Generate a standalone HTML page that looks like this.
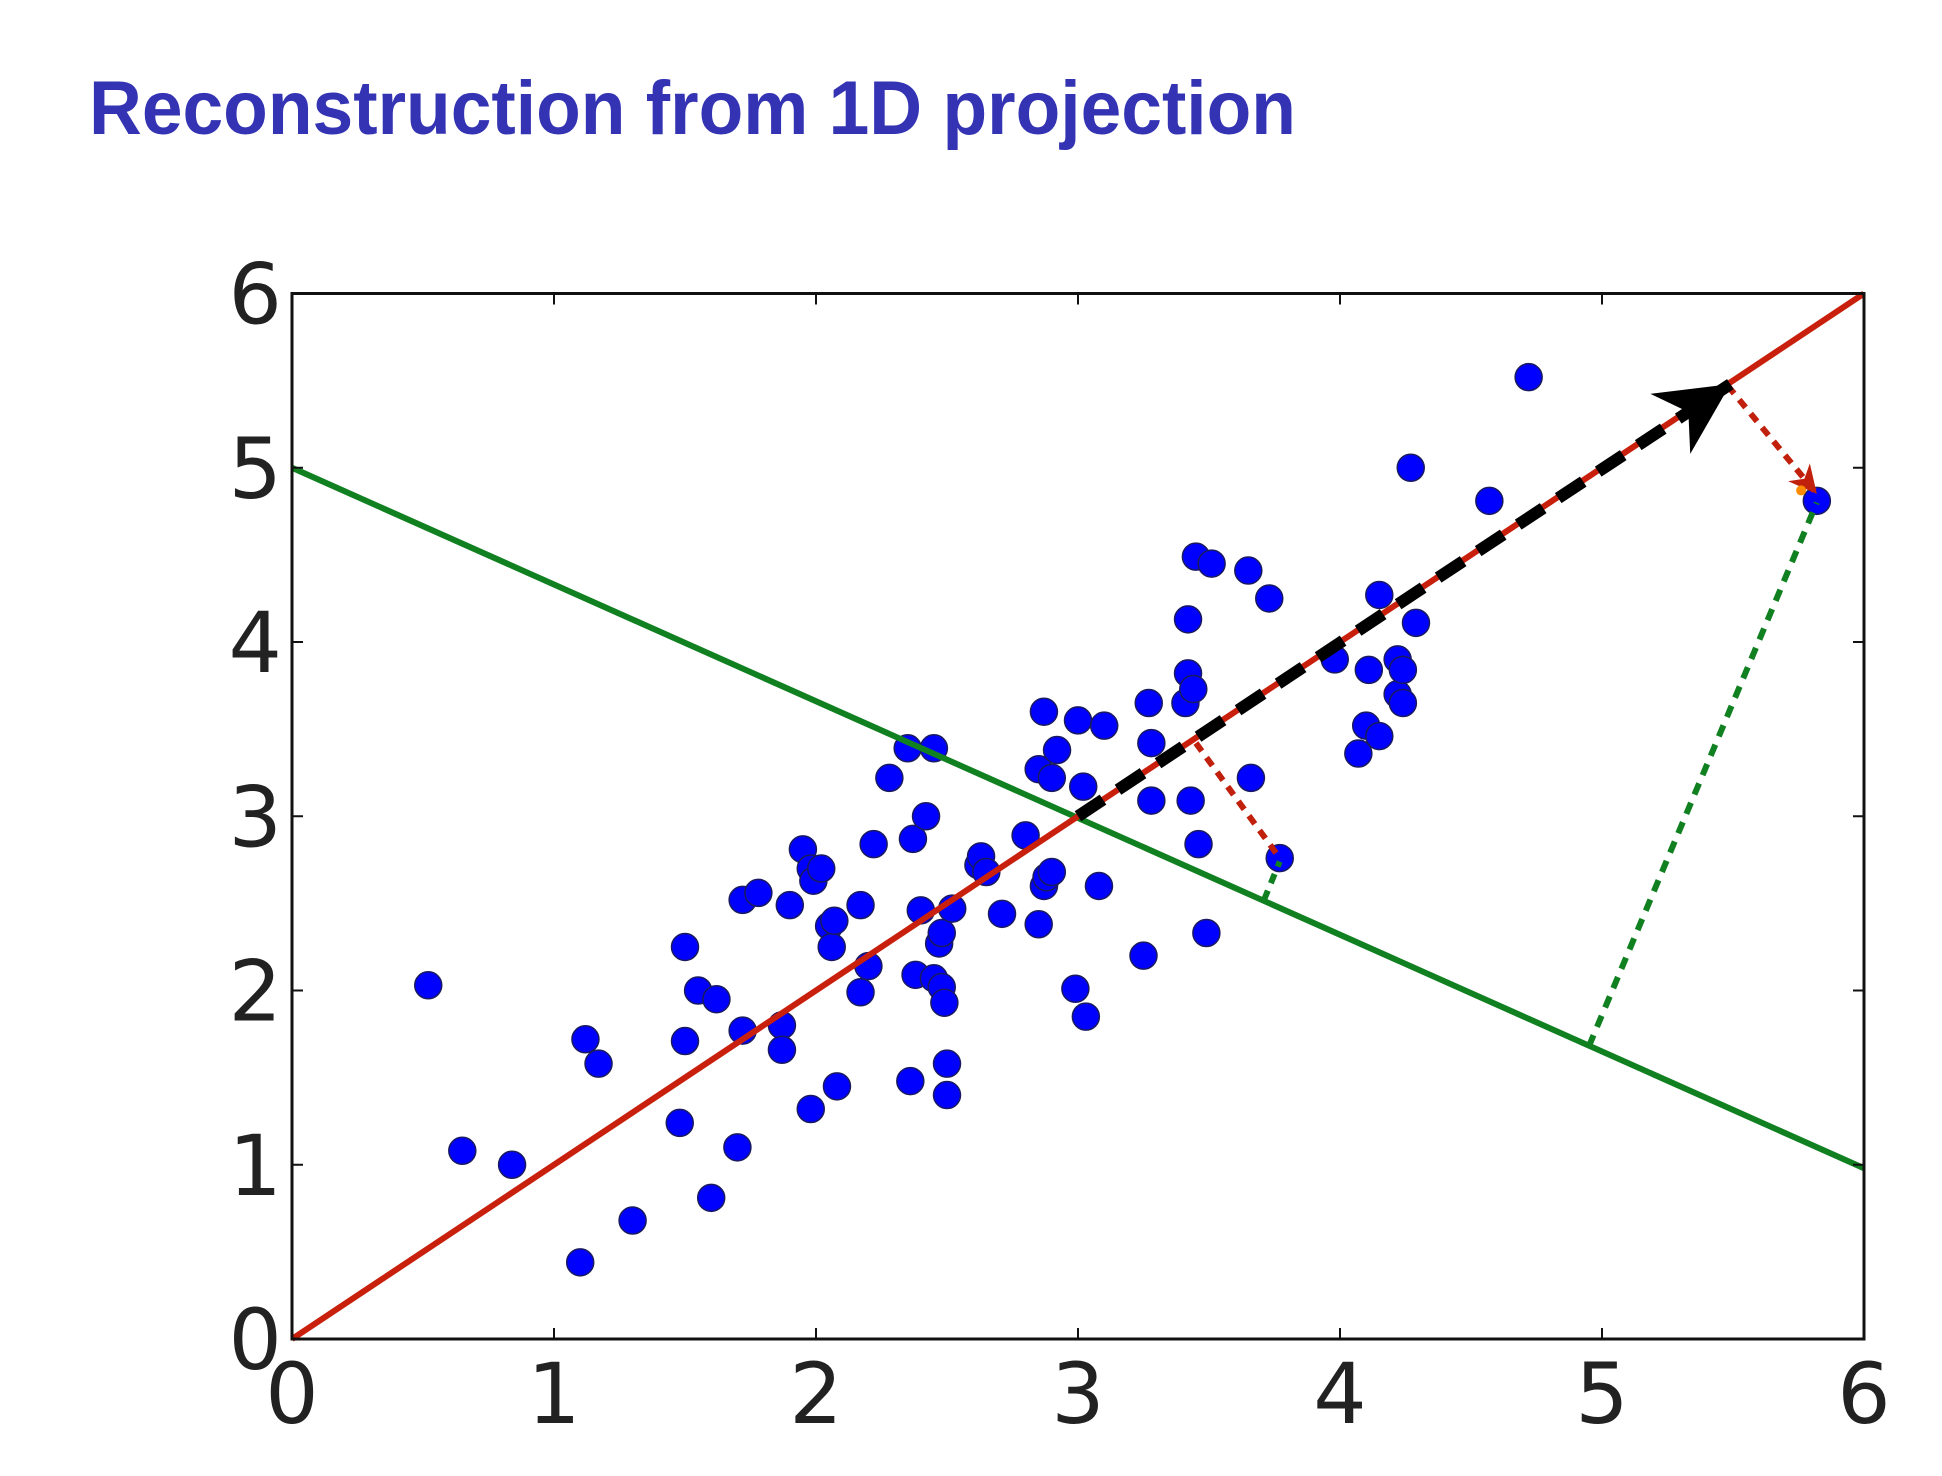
<!DOCTYPE html>
<html><head><meta charset="utf-8"><style>
html,body{margin:0;padding:0;background:#fff;}
svg{display:block;}
</style></head><body>
<svg id="chart" width="1942" height="1476" viewBox="0 0 1942 1476" xmlns="http://www.w3.org/2000/svg">
<text x="89" y="134" font-family="Liberation Sans, sans-serif" font-weight="bold" font-size="76" fill="#3333b3" textLength="1207" lengthAdjust="spacingAndGlyphs">Reconstruction from 1D projection</text>
<g id="plot"></g>
</svg>
<script>
const xTicks=[0,1,2,3,4,5,6];
const yTicks=[0,1,2,3,4,5,6];
const px=[0.52,0.65,0.84,1.1,1.12,1.17,1.3,1.48,1.5,1.5,1.55,1.6,1.62,1.7,1.72,1.72,1.78,1.87,1.87,1.9,1.95,1.98,1.98,1.99,2.02,2.05,2.06,2.07,2.08,2.17,2.17,2.2,2.22,2.28,2.35,2.36,2.37,2.38,2.4,2.42,2.45,2.45,2.47,2.48,2.48,2.49,2.5,2.5,2.52,2.62,2.63,2.65,2.71,2.8,2.85,2.85,2.87,2.87,2.88,2.9,2.9,2.92,2.99,3.0,3.02,3.03,3.08,3.1,3.25,3.27,3.28,3.28,3.41,3.42,3.42,3.43,3.44,3.45,3.46,3.49,3.51,3.65,3.66,3.73,3.77,3.98,4.07,4.1,4.11,4.15,4.15,4.22,4.22,4.24,4.24,4.27,4.29,4.57,4.72,5.82];
const py=[2.03,1.08,1.0,0.44,1.72,1.58,0.68,1.24,1.71,2.25,2.0,0.81,1.95,1.1,1.77,2.52,2.56,1.8,1.66,2.49,2.81,1.32,2.7,2.63,2.7,2.37,2.25,2.4,1.45,2.49,1.99,2.14,2.84,3.22,3.39,1.48,2.87,2.09,2.46,3.0,3.39,2.07,2.27,2.02,2.33,1.93,1.4,1.58,2.47,2.72,2.77,2.68,2.44,2.89,2.38,3.27,3.6,2.6,2.65,2.68,3.22,3.38,2.01,3.55,3.17,1.85,2.6,3.52,2.2,3.65,3.09,3.42,3.65,3.82,4.13,3.09,3.73,4.49,2.84,2.33,4.45,4.41,3.22,4.25,2.76,3.9,3.36,3.52,3.84,3.46,4.27,3.9,3.7,3.65,3.84,5.0,4.11,4.81,5.52,4.81];
const redLine=[[0,0],[6,6]];
const greenLine=[[0,5],[6,0.98]];
const arrowBlack=[[3,3],[5.49,5.48]];
const redDot1=[[5.48,5.47],[5.82,4.85]];
const redDot2=[[3.45,3.42],[3.77,2.76]];
const greenDot1=[[3.71,2.52],[3.77,2.74]];
const greenDot2=[[4.95,1.68],[5.82,4.8]];
const X0=292,X1=1864,Y0=1339,Y1=293.5;
const sx=v=>X0+(X1-X0)*v/6, sy=v=>Y0-(Y0-Y1)*v/6;
const NS="http://www.w3.org/2000/svg";
const g=document.getElementById('plot');
function mk(t,a,p){const e=document.createElementNS(NS,t);for(const k in a)e.setAttribute(k,a[k]);(p||g).appendChild(e);return e;}
const defs=mk('defs',{});
const m1=mk('marker',{id:'ab',viewBox:'0 0 10 10',refX:'10',refY:'5',markerWidth:'72',markerHeight:'72',orient:'auto',markerUnits:'userSpaceOnUse'},defs);
mk('path',{d:'M0,0 L10,5 L0,10 L3,5 z',fill:'#000'},m1);
const m2=mk('marker',{id:'ar',viewBox:'0 0 10 10',refX:'10',refY:'5',markerWidth:'28',markerHeight:'28',orient:'auto',markerUnits:'userSpaceOnUse'},defs);
mk('path',{d:'M0,0 L10,5 L0,10 L3,5 z',fill:'#c0200c'},m2);
px.forEach((v,i)=>{const c=mk('circle',{cx:sx(v),cy:sy(py[i]),r:13.5,fill:'#0000ff',stroke:'#1a1a60','stroke-width':1.5});

});
function line(pts,col,w,dash,marker,name){const l=mk('line',{x1:sx(pts[0][0]),y1:sy(pts[0][1]),x2:sx(pts[1][0]),y2:sy(pts[1][1]),stroke:col,'stroke-width':w,fill:'none'});
if(dash)l.setAttribute('stroke-dasharray',dash);if(marker)l.setAttribute('marker-end',marker);

return l;}
line(greenLine,'#108020',6,null,null,'orthogonal-line');
line(redLine,'#c8200c',6,null,null,'principal-axis');
line(redDot2,'#c0200c',6,'10 8',null,'projection-residual-1');
line(greenDot1,'#108020',6,'10 8',null,'projection-green-1');
line(greenDot2,'#108020',6,'12 9',null,'projection-green-2');
line(redDot1,'#c0200c',6,'10 8','url(#ar)','reconstruction-arrow');
line(arrowBlack,'#000',12,'30 18','url(#ab)','projection-vector');
const od=mk('circle',{cx:sx(5.76),cy:sy(4.87),r:5,fill:'#ff8c00'});


const fr=mk('rect',{x:X0,y:Y1,width:X1-X0,height:Y0-Y1,fill:'none',stroke:'#111','stroke-width':3});


xTicks.forEach(t=>{const x=sx(t);
mk('line',{x1:x,y1:Y0,x2:x,y2:Y0-11,stroke:'#111','stroke-width':2});
mk('line',{x1:x,y1:Y1,x2:x,y2:Y1+11,stroke:'#111','stroke-width':2});
const tx=mk('text',{x:x,y:Y0+84,'text-anchor':'middle','font-family':'DejaVu Sans, sans-serif','font-size':84,fill:'#222'});tx.textContent=t;

});
yTicks.forEach(t=>{const y=sy(t);
mk('line',{x1:X0,y1:y,x2:X0+11,y2:y,stroke:'#111','stroke-width':2});
mk('line',{x1:X1,y1:y,x2:X1-11,y2:y,stroke:'#111','stroke-width':2});
const tx=mk('text',{x:X0-10,y:y+30,'text-anchor':'end','font-family':'DejaVu Sans, sans-serif','font-size':84,fill:'#222'});tx.textContent=t;

});
</script>
</body></html>
